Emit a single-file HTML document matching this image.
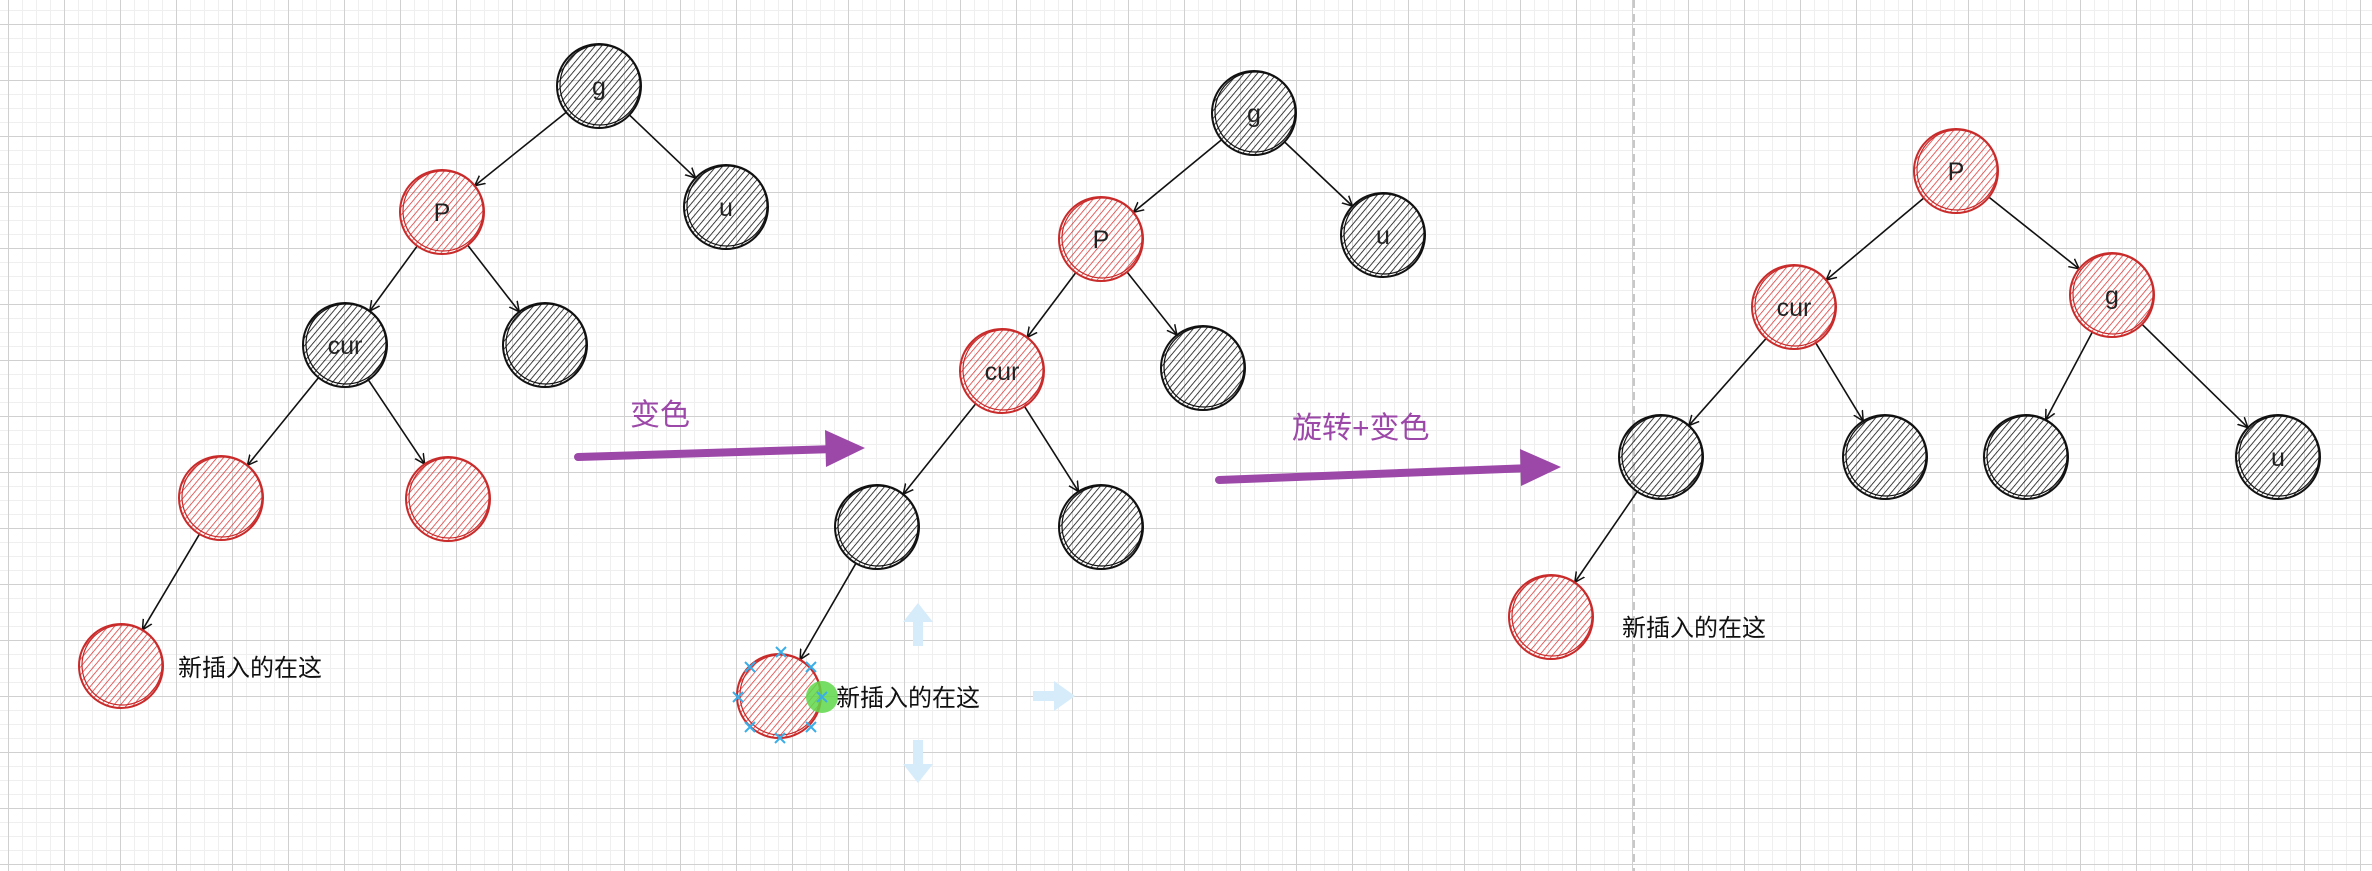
<!DOCTYPE html>
<html><head><meta charset="utf-8"><style>
html,body{margin:0;padding:0;}
body{width:2372px;height:871px;overflow:hidden;background:#fff;
background-image:
linear-gradient(#d0d0d0 1px,transparent 1px),
linear-gradient(90deg,#d0d0d0 1px,transparent 1px),
linear-gradient(#efefef 1px,transparent 1px),
linear-gradient(90deg,#efefef 1px,transparent 1px);
background-size:56px 56px,56px 56px,14px 14px,14px 14px;
background-position:0 24px,8px 0,0 10px,8px 0;}
svg{position:absolute;left:0;top:0;}
</style></head><body>
<svg id="s" width="2372" height="871" xmlns="http://www.w3.org/2000/svg">
<defs>
<pattern id="hb" width="5" height="5" patternUnits="userSpaceOnUse" patternTransform="rotate(40)">
<line x1="0" y1="0" x2="0" y2="5" stroke="#111" stroke-width="1.6"/></pattern>
<pattern id="hr" width="5" height="5" patternUnits="userSpaceOnUse" patternTransform="rotate(40)">
<line x1="0" y1="0" x2="0" y2="5" stroke="#e03131" stroke-width="1.5"/></pattern>
<marker id="ar" markerWidth="12" markerHeight="12" refX="10" refY="6" orient="auto" markerUnits="userSpaceOnUse">
<path d="M0,1 L10,6 L0,11" fill="none" stroke="#111" stroke-width="1.5"/></marker>
</defs>
<line x1="1634" y1="0" x2="1634" y2="871" stroke="#c8c8c8" stroke-width="2" stroke-dasharray="8,6"/>
<g id="g"></g>
<line x1="578" y1="457" x2="835" y2="449" stroke="#9c48a8" stroke-width="8" stroke-linecap="round"/>
<path d="M825,430 L865,448 L826,467 Z" fill="#9c48a8"/>
<text x="630" y="425" font-family="Liberation Sans,'Noto Sans CJK SC',sans-serif" font-size="30" fill="#9c48a8">变色</text>
<line x1="1219" y1="480" x2="1530" y2="468" stroke="#9c48a8" stroke-width="8" stroke-linecap="round"/>
<path d="M1520,449 L1561,467 L1521,486 Z" fill="#9c48a8"/>
<text x="1292" y="438" font-family="Liberation Sans,'Noto Sans CJK SC',sans-serif" font-size="30" fill="#9c48a8">旋转+变色</text>
<g fill="#d6ecfa">
<rect x="913" y="618" width="10" height="28"/><path d="M903,622 L918,603 L933,622Z"/>
<rect x="913" y="740" width="10" height="28"/><path d="M903,764 L918,783 L933,764Z"/>
<rect x="1033" y="691" width="25" height="10"/><path d="M1054,681 L1075,696 L1054,711Z"/>
</g>
</svg>
<script>
const N={
a:[599,86,'k','g'],b:[726,207,'k','u'],c:[442,212,'r','P'],d:[545,345,'k',''],e:[345,345,'k','cur'],f:[221,498,'r',''],h:[448,499,'r',''],i:[121,666,'r',''],
A:[1254,113,'k','g'],B:[1383,235,'k','u'],C:[1101,239,'r','P'],D:[1203,368,'k',''],E:[1002,371,'r','cur'],F:[877,527,'k',''],H:[1101,527,'k',''],I:[779,696,'r',''],
p:[1956,171,'r','P'],q:[1794,307,'r','cur'],s:[2112,295,'r','g'],t:[1661,457,'k',''],v:[1885,457,'k',''],w:[2026,457,'k',''],x:[2278,457,'k','u'],y:[1551,617,'r','']};
const E=[['a','c'],['a','b'],['c','e'],['c','d'],['e','f'],['e','h'],['f','i'],
['A','C'],['A','B'],['C','E'],['C','D'],['E','F'],['E','H'],['F','I'],
['p','q'],['p','s'],['q','t'],['q','v'],['s','w'],['s','x'],['t','y']];
const R=42;let h='';
for(const [u,v] of E){const a=N[u],b=N[v];const dx=b[0]-a[0],dy=b[1]-a[1],L=Math.hypot(dx,dy);
h+=`<line x1="${a[0]+dx/L*R}" y1="${a[1]+dy/L*R}" x2="${b[0]-dx/L*R}" y2="${b[1]-dy/L*R}" stroke="#111" stroke-width="1.6" marker-end="url(#ar)"/>`;}
for(const k in N){const [x,y,c,t]=N[k];const col=c=='k'?'#111':'#c92a2a';
h+=`<circle cx="${x}" cy="${y}" r="${R}" fill="url(#h${c=='k'?'b':'r'})" stroke="${col}" stroke-width="2"/>`;
h+=`<circle cx="${x+1}" cy="${y-1}" r="${R-2}" fill="none" stroke="${col}" stroke-width="1.2"/>`;
if(t)h+=`<text x="${x}" y="${y+9}" text-anchor="middle" font-family="Liberation Sans,sans-serif" font-size="25" fill="#222">${t}</text>`;}
const T=[[178,676],[836,706],[1622,636]];
for(const [x,y] of T)h+=`<text x="${x}" y="${y}" font-family="Liberation Sans,'Noto Sans CJK SC',sans-serif" font-size="24" fill="#111">新插入的在这</text>`;
h+=`<circle cx="822" cy="697" r="16" fill="#5fd84a" opacity="0.85"/>`;
const xs=[[781,652],[750,667],[811,667],[738,697],[822,697],[750,727],[811,727],[780,738]];
for(const [x,y] of xs)h+=`<path d="M${x-5},${y-5}L${x+5},${y+5}M${x+5},${y-5}L${x-5},${y+5}" stroke="#3aaee8" stroke-width="2"/>`;
document.getElementById('g').innerHTML=h;
</script>
</body></html>
